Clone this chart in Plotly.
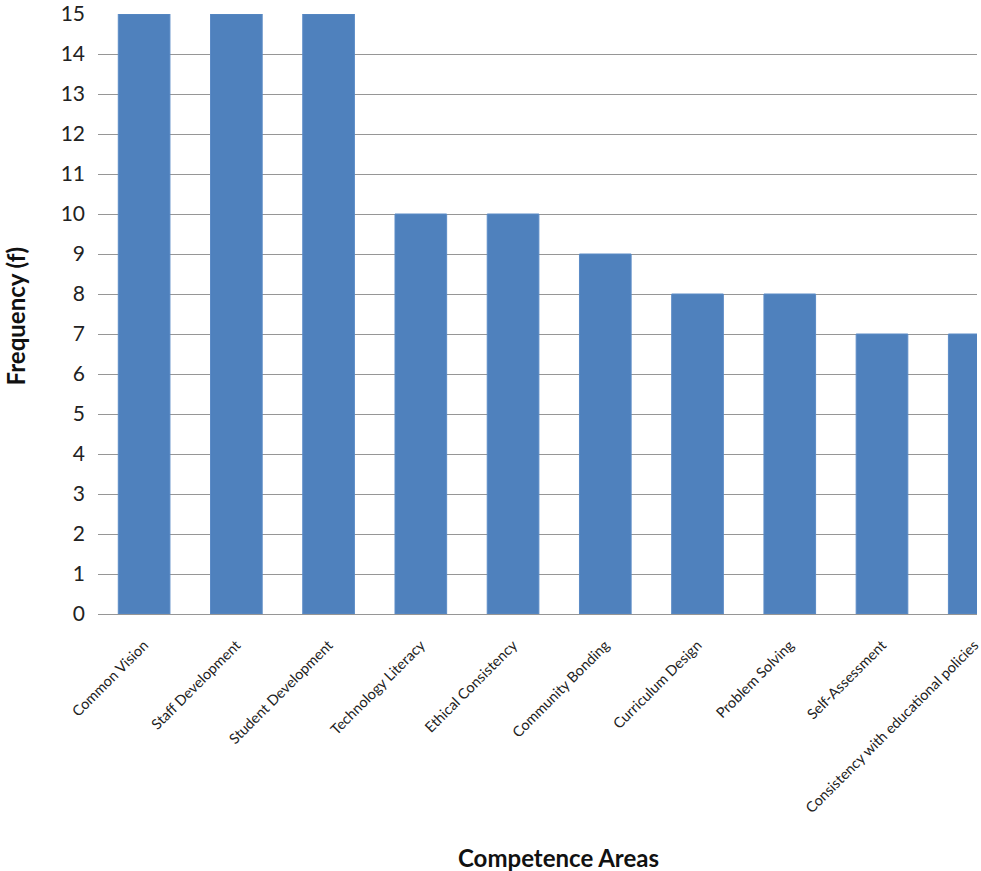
import plotly.graph_objects as go

categories = ["Common Vision", "Staff Development", "Student Development", "Technology Literacy",
              "Ethical Consistency", "Community Bonding", "Curriculum Design", "Problem Solving",
              "Self-Assessment", "Consistency with educational policies"]
frequency = [15, 15, 15, 10, 10, 9, 8, 8, 7, 7]

FONT = "Lato, Carlito, Calibri, 'Open Sans', sans-serif"

fig = go.Figure(go.Bar(
    x=categories, y=frequency,
    marker=dict(color="#4F81BD", line=dict(color="#5B8BC6", width=1)),
    width=0.56,
))

H = 871; T = 14; B = 257; L = 98; W = 981
ph = H - T - B
pw = W - L

fig.update_layout(
    width=W, height=H,
    margin=dict(l=L, r=0, t=T, b=B),
    plot_bgcolor="white", paper_bgcolor="white",
    showlegend=False,
    font=dict(family=FONT, color="#222222"),
    xaxis=dict(range=[-0.5, 9.03], tickangle=-45, tickfont=dict(size=14.5, family=FONT, color="#222"),
               showgrid=False, showline=False, ticks="", zeroline=False, ticklabelstandoff=19),
    yaxis=dict(range=[0, 15], dtick=1, tickfont=dict(size=21, family=FONT, color="#222"),
               showgrid=True, gridcolor="#969696", gridwidth=1, zeroline=True,
               zerolinecolor="#969696", zerolinewidth=1, showline=False, ticks="",
               ticklabelstandoff=12),
    annotations=[
        dict(text="<b>Competence Areas</b>", x=(561 - L) / pw, y=(H - B - 857) / ph,
             xref="paper", yref="paper", xanchor="center", yanchor="middle",
             showarrow=False, font=dict(size=24, family=FONT, color="#111")),
        dict(text="<b>Frequency (f)</b>", x=(15 - L) / pw, y=(H - B - 316) / ph,
             xref="paper", yref="paper", xanchor="center", yanchor="middle",
             showarrow=False, textangle=-90, font=dict(size=24, family=FONT, color="#111")),
    ],
)

fig.write_html("out.html")
